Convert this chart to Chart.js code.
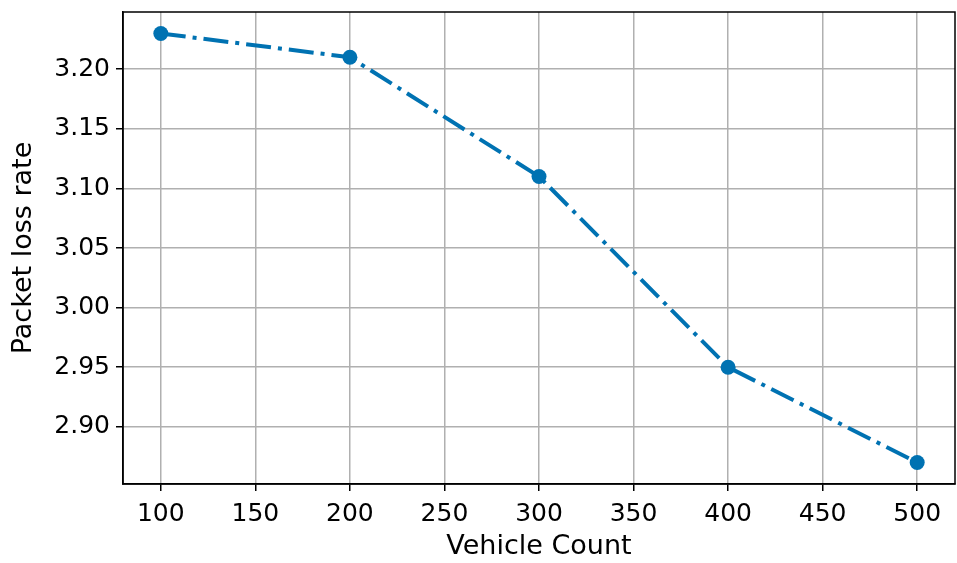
<!DOCTYPE html>
<html>
<head>
<meta charset="utf-8">
<script src="https://cdn.jsdelivr.net/npm/chart.js@4/dist/chart.umd.min.js"></script>
<style>
  html, body { margin: 0; padding: 0; background: #fff; }
  #wrap { width: 957px; height: 563px; }
</style>
</head>
<body>
<div id="wrap"><canvas id="myChart" width="957" height="563"></canvas></div>
<script>
const vehicleCounts = [100, 200, 300, 400, 500]
const lossRates = [3.23, 3.21, 3.11, 2.95, 2.87]
const xTicks = [100, 150, 200, 250, 300, 350, 400, 450, 500]
const yTicks = [2.90, 2.95, 3.00, 3.05, 3.10, 3.15, 3.20]

const lineColor = '#0072b2'
const gridColor = '#b0b0b0'
const tickFont = { family: 'DejaVu Sans', size: 25 }
const titleFont = { family: 'DejaVu Sans', size: 27 }

// box around the plot area, like matplotlib spines
const frame = {
    id: 'frame',
    afterDraw(chart) {
        const { ctx, chartArea: a } = chart
        ctx.save()
        ctx.strokeStyle = '#000'
        ctx.lineWidth = 1.5
        ctx.strokeRect(a.left, a.top, a.right - a.left, a.bottom - a.top)
        ctx.restore()
    }
}

const points = vehicleCounts.map((v, i) => ({ x: v, y: lossRates[i] }))

const config = {
    type: 'line',
    data: {
        datasets: [{
            label: 'Packet loss rate',
            data: points,
            borderColor: lineColor,
            backgroundColor: lineColor,
            borderWidth: 4,
            borderDash: [25, 7, 4, 7],
            tension: 0,
            pointRadius: 7.5,
            pointHoverRadius: 7.5,
            pointBorderWidth: 0,
            clip: false
        }]
    },
    options: {
        responsive: false,
        animation: false,
        layout: { autoPadding: false, padding: { top: 12, right: 2, left: 0, bottom: 0 } },
        plugins: { legend: { display: false }, tooltip: { enabled: false } },
        scales: {
            x: {
                type: 'linear',
                min: 80,
                max: 520,
                afterBuildTicks: (axis) => { axis.ticks = xTicks.map(v => ({ value: v })) },
                afterFit: (axis) => {
                    axis.height = 79
                    axis.paddingLeft = 0
                    axis.paddingRight = 0
                },
                ticks: { font: tickFont, color: '#000', padding: 8, maxRotation: 0 },
                grid: { color: gridColor, lineWidth: 1.5, tickColor: '#000', tickLength: 7 },
                border: { color: '#000', width: 1.5 },
                title: { display: true, text: 'Vehicle Count', font: titleFont, color: '#000', padding: { top: 0, bottom: 0 } }
            },
            y: {
                type: 'linear',
                min: 2.852,
                max: 3.248,
                afterBuildTicks: (axis) => { axis.ticks = yTicks.map(v => ({ value: v })) },
                afterFit: (axis) => {
                    axis.width = 123
                    axis.paddingTop = 0
                    axis.paddingBottom = 0
                },
                ticks: { font: tickFont, color: '#000', padding: 6, callback: (v) => v.toFixed(2) },
                grid: { color: gridColor, lineWidth: 1.5, tickColor: '#000', tickLength: 7 },
                border: { color: '#000', width: 1.5 },
                title: { display: true, text: 'Packet loss rate', font: titleFont, color: '#000', padding: { top: 8, bottom: 0 } }
            }
        }
    },
    plugins: [frame]
}

const myChart = new Chart(document.getElementById('myChart'), config)
</script>
</body>
</html>
